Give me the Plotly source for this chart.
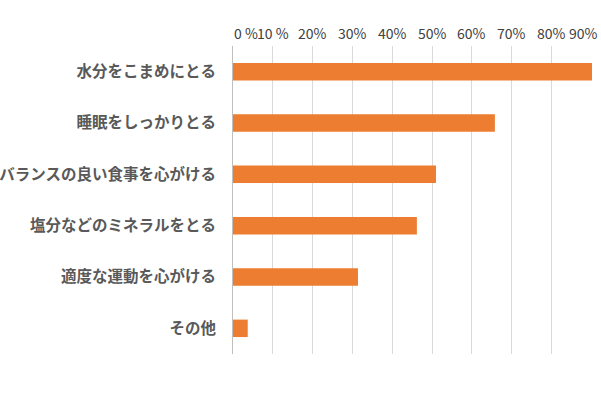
import plotly.graph_objects as go

categories = ["水分をこまめにとる", "睡眠をしっかりとる", "バランスの良い食事を心がける",
              "塩分などのミネラルをとる", "適度な運動を心がける", "その他"]
values = [90.2, 65.8, 51.0, 46.2, 31.4, 3.7]
tick_vals = [0, 10, 20, 30, 40, 50, 60, 70, 80, 90]
tick_text = ["0 %", "10 %", "20%", "30%", "40%", "50%", "60%", "70%", "80%", "90%"]

fig = go.Figure(go.Bar(
    x=values, y=categories, orientation="h",
    marker=dict(color="#ED7D31", line=dict(width=0)),
    width=0.34,
))

# x tick labels as annotations positioned through the x axis (first/last clamped inside like Excel)
for i, (v, t) in enumerate(zip(tick_vals, tick_text)):
    if i == 0:
        anchor, shift = "left", -1
    elif i == len(tick_vals) - 1:
        anchor, shift = "right", 9
    else:
        anchor, shift = "center", 0
    fig.add_annotation(
        x=v, y=1, xref="x", yref="paper", text=t, showarrow=False,
        xanchor=anchor, yanchor="bottom", xshift=shift, yshift=1,
        font=dict(size=14, color="#404040", family="Noto Sans CJK JP"),
    )

fig.update_layout(
    width=601, height=400,
    margin=dict(l=233, r=9, t=46, b=46),
    paper_bgcolor="white", plot_bgcolor="white",
    showlegend=False,
    font=dict(family="Noto Sans CJK JP", color="#595959"),
    xaxis=dict(
        side="top", range=[0, 90.2], tickvals=tick_vals, showticklabels=False,
        showgrid=True, gridcolor="#d9d9d9", gridwidth=1, zeroline=False,
        showline=False, ticks="", automargin=False, fixedrange=True,
    ),
    yaxis=dict(
        categoryorder="array", categoryarray=categories, autorange="reversed",
        showgrid=False, zeroline=False, showline=True, linecolor="#bfbfbf", linewidth=1,
        ticks="outside", ticklen=13, tickcolor="rgba(0,0,0,0)", automargin=False,
        tickfont=dict(size=15.5, color="#595959", family="Noto Sans CJK JP", weight="bold"),
    ),
)

fig.write_html("out.html", config={"displayModeBar": False},
               post_script="document.body.style.margin='0';")
